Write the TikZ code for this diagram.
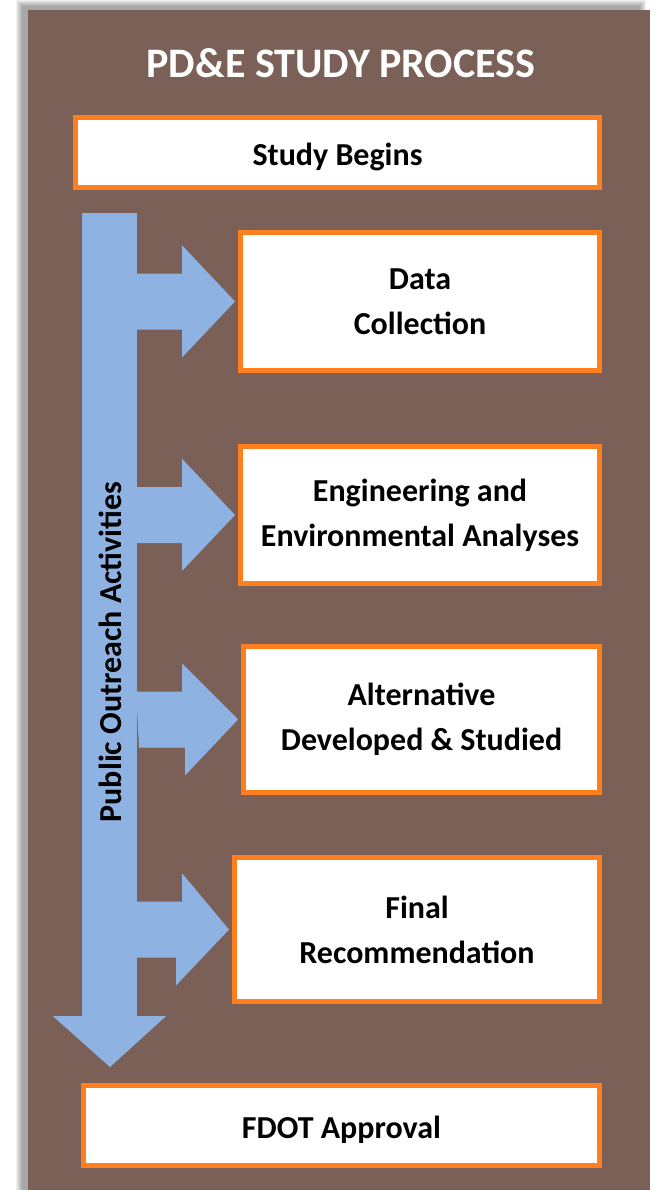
\documentclass[tikz,border=0pt]{standalone}
\usepackage{fontspec}
\setmainfont{Carlito}
\definecolor{panelbrown}{RGB}{122,96,86}
\definecolor{outreachblue}{RGB}{142,179,226}
\definecolor{boxorange}{RGB}{255,127,30}
\begin{document}
\begin{tikzpicture}[x=1pt,y=-1pt,
        stepbox/.style={draw=boxorange,line width=5pt,fill=white,align=center,
            font=\fontsize{32}{45}\selectfont\bfseries,
            execute at begin node={\rule{0pt}{31pt}}},
        outreach/.style={fill=outreachblue}]
    \useasboundingbox (0,0) rectangle (670,1190);
    % panel with its soft shadow
    \foreach \s in {0,...,6}
        \fill[black,opacity=0.06] (16+\s,\s) rectangle (646-\s,1190);
    \fill[panelbrown] (28,10) rectangle (650,1190);
    \node [text=white,font=\fontsize{42}{48}\selectfont\bfseries] (title) at (341,63) {PD\&E STUDY PROCESS};
    % steps
    \node [stepbox,minimum width=524,minimum height=70] (begins) at (337.5,152.5) {Study Begins};
    \node [stepbox,minimum width=359,minimum height=138] (data) at (420,301.5) {Data\\Collection};
    \node [stepbox,minimum width=359,minimum height=137] (engineering) at (420,515) {Engineering and\\Environmental Analyses};
    \node [stepbox,minimum width=356,minimum height=146] (alternative) at (421.5,719.5) {Alternative\\Developed \& Studied};
    \node [stepbox,minimum width=365,minimum height=144] (final) at (417,929.5) {Final\\Recommendation};
    \node [stepbox,minimum width=516,minimum height=80] (approval) at (341.5,1125.5) {FDOT Approval};
    % outreach arrow
    \node [outreach,minimum width=55,minimum height=804,inner sep=0pt] (shaft) at (109.5,615) {};
    \coordinate (downtip) at (110,1067);
    \fill [outreach] (shaft.south) ++(-56.5,-1) -- ++(113,0) -- (downtip) -- cycle;
    \foreach \b in {data,engineering,alternative,final}
        \fill [outreach] (shaft.east |- \b.west) ++(-1,-28) -- ++(46,0) -- ++(0,-28)
            -- ([xshift=-3pt]\b.west) -- ++(-53,56) -- ++(0,-28) -- ++(-46,0) -- cycle;
    \node [rotate=90,font=\fontsize{32}{36}\selectfont\bfseries] (outreachlabel) at (110,652) {Public Outreach Activities};
\end{tikzpicture}
\end{document}
